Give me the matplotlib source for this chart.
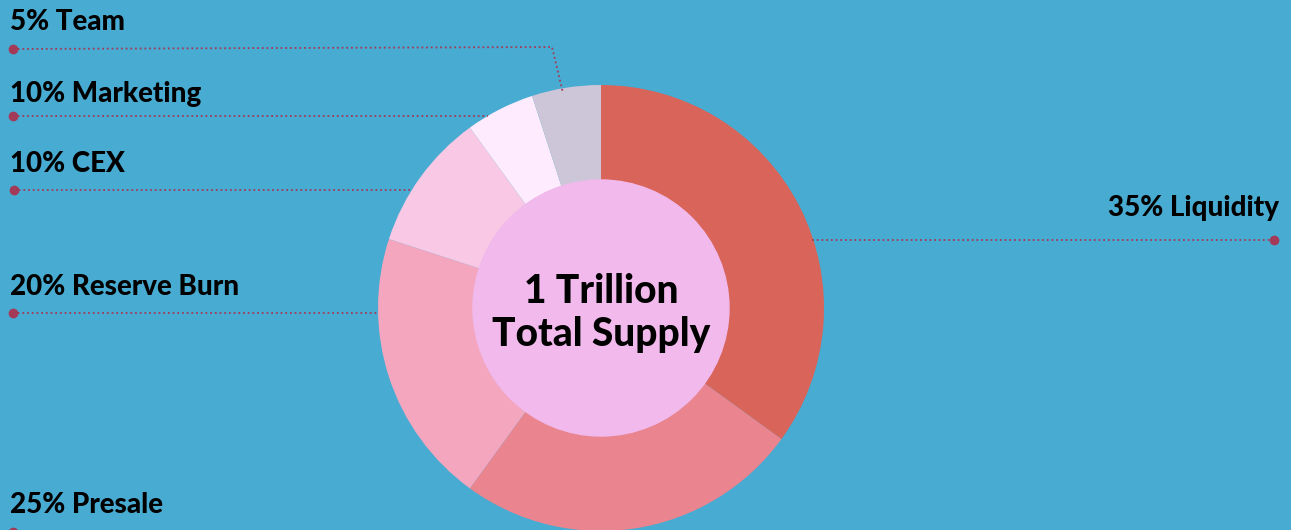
import matplotlib
matplotlib.use("Agg")
import matplotlib.pyplot as plt

labels = ['35% Liquidity', '25% Presale', '20% Reserve Burn', '10% CEX',
          '10% Marketing', '5% Team']
# slice sizes as drawn (the marketing slice is drawn at 5 even though its label says 10%)
shares = [35, 25, 20, 10, 5, 5]
colors = ['#D9645A', '#EA848F', '#F4A6BF', '#F8C8E4', '#FEEBFD', '#CDC6D8']
center_text = '1 Trillion\nTotal Supply'

bg = '#48ABD1'
line_c = '#A33A58'

# label layout in pixels: (text x, text y, ha, leader path)
layout = [
    (1279, 208, 'right', [(1274, 240), (810, 240)]),
    (10, 505, 'left', [(13, 532), (470, 532)]),
    (10, 287, 'left', [(13, 313), (378, 313)]),
    (10, 164, 'left', [(14, 190), (410, 190)]),
    (10, 94, 'left', [(13, 116), (488, 116)]),
    (10, 22, 'left', [(13, 49), (552, 47), (563, 93)]),
]

fig = plt.figure(figsize=(12.91, 5.30), dpi=100)
fig.patch.set_facecolor(bg)
ax = fig.add_axes([0, 0, 1, 1])
ax.set_facecolor(bg)

cx, cy, r = 601, 308, 223
# y axis is inverted below, so start at -90 and go counterclockwise in data
# terms, which reads as clockwise from the top on screen
ax.pie(shares, colors=colors, startangle=-90, counterclock=True,
       radius=r, center=(cx, cy), frame=True,
       wedgeprops=dict(width=r - 128, linewidth=0))
ax.add_patch(plt.Circle((cx, cy), 128, color='#F2B9EC', zorder=3))
ax.set_xlim(0, 1291)
ax.set_ylim(530, 0)
ax.set_aspect('equal')
ax.axis('off')

ax.text(cx, cy + 5, center_text, ha='center', va='center', fontsize=28,
        fontweight=900, family='Lato', linespacing=1.2, zorder=4)

for text, (tx, ty, ha, path) in zip(labels, layout):
    ax.text(tx, ty, text, ha=ha, va='center', fontsize=20,
            fontweight=900, family='Lato', color='black', zorder=5)
    xs = [p[0] for p in path]
    ys = [p[1] for p in path]
    ax.plot(xs, ys, color=line_c, lw=1.3, ls=(0, (1, 1.6)), zorder=2)
    ax.plot(xs[0], ys[0], 'o', color=line_c, ms=6, zorder=5, clip_on=False)

fig.savefig('out.png', dpi=100, facecolor=bg)
